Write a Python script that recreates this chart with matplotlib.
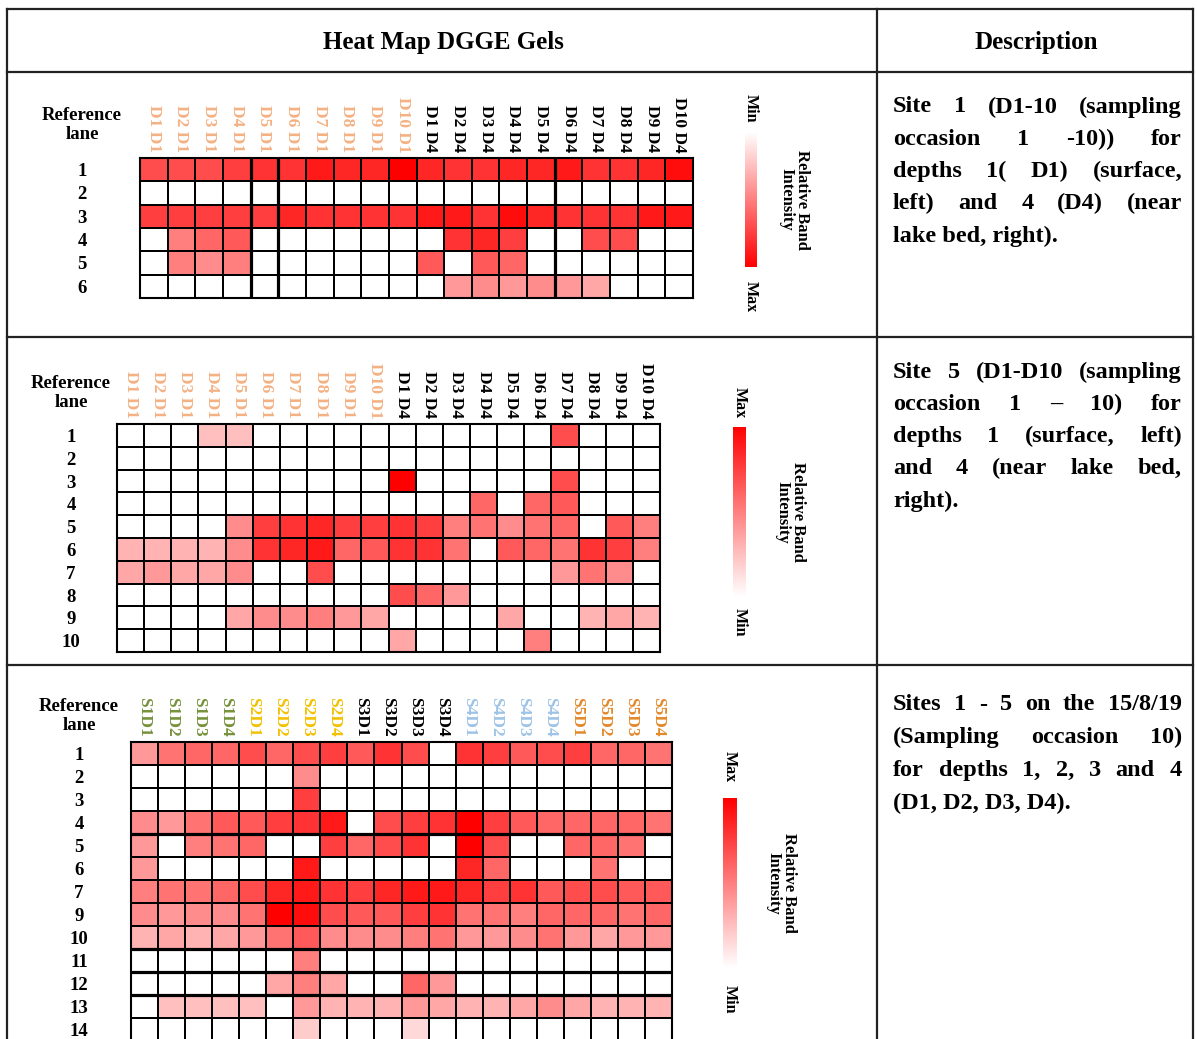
"""
Heat map DGGE gels - table of three band-intensity heat maps
"""
import numpy as np
import matplotlib
matplotlib.use('Agg')
import matplotlib.pyplot as plt
from matplotlib.colors import LinearSegmentedColormap
from matplotlib.lines import Line2D

W, H = 1197, 1039
SERIF = 'Liberation Serif'

# ---- data: site 1, depth 1 and depth 4 over 10 occasions ----
site1_cols = [f'D{i} D1' for i in range(1, 11)] + [f'D{i} D4' for i in range(1, 11)]
site1_rows = ['1', '2', '3', '4', '5', '6']
site1_vals = [
    [0.7, 0.7, 0.7, 0.75, 0.8, 0.8, 0.9, 0.85, 0.85, 1.0, 0.85, 0.8, 0.8, 0.85, 0.85, 0.9, 0.8, 0.8, 0.85, 0.95],
    [0] * 20,
    [0.75, 0.75, 0.75, 0.75, 0.75, 0.85, 0.8, 0.8, 0.8, 0.8, 0.9, 0.9, 0.8, 0.95, 0.85, 0.8, 0.8, 0.8, 0.9, 0.9],
    [0, 0.5, 0.6, 0.65, 0, 0, 0, 0, 0, 0, 0, 0.8, 0.85, 0.75, 0, 0, 0.7, 0.7, 0, 0],
    [0, 0.5, 0.45, 0.5, 0, 0, 0, 0, 0, 0, 0.65, 0, 0.65, 0.6, 0, 0, 0, 0, 0, 0],
    [0, 0, 0, 0, 0, 0, 0, 0, 0, 0, 0, 0.4, 0.45, 0.4, 0.45, 0.4, 0.35, 0, 0, 0],
]

# ---- data: site 5 ----
site5_cols = site1_cols
site5_rows = [str(i) for i in range(1, 11)]
site5_vals = [
    [0, 0, 0, 0.25, 0.25, 0, 0, 0, 0, 0, 0, 0, 0, 0, 0, 0, 0.7, 0, 0, 0],
    [0] * 20,
    [0, 0, 0, 0, 0, 0, 0, 0, 0, 0, 1.0, 0, 0, 0, 0, 0, 0.7, 0, 0, 0],
    [0, 0, 0, 0, 0, 0, 0, 0, 0, 0, 0, 0, 0, 0.6, 0, 0.6, 0.65, 0, 0, 0],
    [0, 0, 0, 0, 0.45, 0.75, 0.8, 0.85, 0.75, 0.75, 0.8, 0.75, 0.5, 0.55, 0.45, 0.55, 0.6, 0, 0.65, 0.5],
    [0.3, 0.3, 0.3, 0.3, 0.45, 0.8, 0.85, 0.9, 0.6, 0.65, 0.8, 0.8, 0.55, 0, 0.65, 0.6, 0.55, 0.8, 0.75, 0.5],
    [0.35, 0.4, 0.35, 0.35, 0.45, 0, 0, 0.7, 0, 0, 0, 0, 0, 0, 0, 0, 0.4, 0.55, 0.45, 0],
    [0, 0, 0, 0, 0, 0, 0, 0, 0, 0, 0.7, 0.6, 0.4, 0, 0, 0, 0, 0, 0, 0],
    [0, 0, 0, 0, 0.35, 0.45, 0.45, 0.5, 0.4, 0.35, 0, 0, 0, 0, 0.35, 0, 0, 0.3, 0.35, 0.3],
    [0, 0, 0, 0, 0, 0, 0, 0, 0, 0, 0.35, 0, 0, 0, 0, 0.5, 0, 0, 0, 0],
]

# ---- data: sites 1-5, 15/8/19 ----
sites_cols = [f'S{s}D{d}' for s in range(1, 6) for d in range(1, 5)]
sites_rows = ['1', '2', '3', '4', '5', '6', '7', '9', '10', '11', '12', '13', '14']
sites_vals = [
    [0.4, 0.55, 0.6, 0.6, 0.7, 0.6, 0.7, 0.75, 0.65, 0.8, 0.7, 0, 0.8, 0.75, 0.65, 0.7, 0.75, 0.6, 0.6, 0.55],
    [0, 0, 0, 0, 0, 0, 0.45, 0, 0, 0, 0, 0, 0, 0, 0, 0, 0, 0, 0, 0],
    [0, 0, 0, 0, 0, 0, 0.75, 0, 0, 0, 0, 0, 0, 0, 0, 0, 0, 0, 0, 0],
    [0.45, 0.4, 0.55, 0.65, 0.65, 0.75, 0.8, 0.9, 0, 0.7, 0.75, 0.8, 1.0, 0.75, 0.65, 0.6, 0.6, 0.6, 0.6, 0.55],
    [0.4, 0, 0.5, 0.55, 0.6, 0, 0, 0.75, 0.6, 0.7, 0.8, 0, 1.0, 0.7, 0, 0, 0.6, 0.6, 0.55, 0],
    [0.4, 0, 0, 0, 0, 0, 0.9, 0, 0, 0, 0, 0, 0.85, 0.6, 0, 0, 0, 0.55, 0, 0],
    [0.5, 0.55, 0.55, 0.6, 0.7, 0.85, 0.9, 0.8, 0.75, 0.85, 0.9, 0.9, 0.85, 0.75, 0.8, 0.65, 0.7, 0.7, 0.65, 0.65],
    [0.45, 0.4, 0.45, 0.45, 0.55, 1.0, 0.95, 0.7, 0.65, 0.65, 0.75, 0.8, 0.55, 0.55, 0.5, 0.6, 0.6, 0.6, 0.55, 0.6],
    [0.3, 0.35, 0.3, 0.35, 0.4, 0.55, 0.65, 0.45, 0.45, 0.45, 0.5, 0.55, 0.4, 0.4, 0.45, 0.55, 0.4, 0.35, 0.4, 0.4],
    [0, 0, 0, 0, 0, 0, 0.5, 0, 0, 0, 0, 0, 0, 0, 0, 0, 0, 0, 0, 0],
    [0, 0, 0, 0, 0, 0.35, 0.5, 0.35, 0, 0, 0.6, 0.4, 0, 0, 0, 0, 0, 0, 0, 0],
    [0, 0.25, 0.25, 0.25, 0.25, 0, 0.4, 0.3, 0.3, 0.3, 0.4, 0.35, 0.3, 0.3, 0.35, 0.45, 0.35, 0.3, 0.3, 0.3],
    [0, 0, 0, 0, 0, 0, 0.2, 0, 0, 0, 0.15, 0, 0, 0, 0, 0, 0, 0, 0, 0],
]

desc1 = ['Site 1 (D1-10 (sampling', 'occasion 1 -10)) for', 'depths 1( D1) (surface,',
         'left) and 4 (D4) (near', 'lake bed, right).']
desc2 = ['Site 5 (D1-D10 (sampling', 'occasion 1 \u2013 10) for', 'depths 1 (surface, left)',
         'and 4 (near lake bed,', 'right).']
desc3 = ['Sites 1 - 5 on the 15/8/19', '(Sampling occasion 10)', 'for depths 1, 2, 3 and 4',
         '(D1, D2, D3, D4).']

PEACH = '#f4b183'
d_colors = [PEACH] * 10 + ['black'] * 10
site_palette = ['#76923c', '#f2c100', 'black', '#9dc3e6', '#e2892a']
s_colors = [site_palette[i // 4] for i in range(20)]

cmap = LinearSegmentedColormap.from_list('wr', ['#ffffff', '#ff0000'])

fig = plt.figure(figsize=(W / 100, H / 100), dpi=100)


def fx(x):
    return x / W


def fy(y):
    return 1 - y / H


def hline(y, x0, x1, lw=1.6):
    fig.add_artist(Line2D([fx(x0), fx(x1)], [fy(y), fy(y)], color='#222222', lw=lw))


def vline(x, y0, y1, lw=1.6):
    fig.add_artist(Line2D([fx(x), fx(x)], [fy(y0), fy(y1)], color='#222222', lw=lw))


# table frame
L, C, R, T = 7, 877, 1193, 9
hline(T, L, R)
hline(72, L, R)
hline(337, L, R)
hline(665, L, R)
vline(L, T, H)
vline(C, T, H)
vline(R, T, H)

fig.text(fx(443), fy(42), 'Heat Map DGGE Gels', ha='center', va='center',
         fontsize=18, fontweight='bold', family=SERIF)
fig.text(fx(1036), fy(42), 'Description', ha='center', va='center',
         fontsize=18, fontweight='bold', family=SERIF)


def heatmap(vals, left, top, width, cell_h, xlabels, xcolors, ylabels, label_x, ref_y,
            thick_v=(), thick_h=()):
    data = np.array(vals, dtype=float)
    nr, nc = data.shape
    ax = fig.add_axes([fx(left), fy(top + nr * cell_h), width / W, nr * cell_h / H])
    ax.pcolormesh(data, cmap=cmap, vmin=0, vmax=1, edgecolors='black', linewidth=1.3)
    # a few heavier gel lines as in the original
    for v in thick_v:
        ax.axvline(v, color='black', lw=2.3)
    for h in thick_h:
        ax.axhline(h, color='black', lw=2.3)
    ax.set_xlim(0, nc)
    ax.set_ylim(nr, 0)
    ax.xaxis.tick_top()
    ax.set_xticks(np.arange(nc) + 0.5)
    ax.set_xticklabels(xlabels, rotation=-90, ha='center', va='bottom',
                       fontsize=12.5, fontweight='bold', family=SERIF)
    for t, c in zip(ax.get_xticklabels(), xcolors):
        t.set_color(c)
    ax.set_yticks(np.arange(nr) + 0.5)
    ax.set_yticklabels(ylabels, ha='center', fontsize=13.5, fontweight='bold', family=SERIF)
    ax.tick_params(length=0)
    ax.tick_params(axis='y', pad=(left - label_x) * 0.72)
    ax.tick_params(axis='x', pad=4)
    for s in ax.spines.values():
        s.set_linewidth(1.5)
    fig.text(fx(label_x), fy(ref_y), 'Reference\nlane', ha='center', va='center',
             fontsize=13.5, fontweight='bold', family=SERIF, linespacing=1.1)
    return ax


def colorbar(x, y0, y1, width, red_top, max_y, min_y, text_x):
    ax = fig.add_axes([fx(x), fy(y1), width / W, (y1 - y0) / H])
    grad = np.linspace(0, 1, 256).reshape(-1, 1)
    if red_top:
        grad = grad[::-1]
    ax.imshow(grad, cmap=cmap, aspect='auto', vmin=0, vmax=1)
    ax.axis('off')
    cx = x + width / 2
    fig.text(fx(cx), fy(max_y), 'Max', rotation=-90, ha='center', va='center',
             fontsize=11.5, fontweight='bold', family=SERIF)
    fig.text(fx(cx), fy(min_y), 'Min', rotation=-90, ha='center', va='center',
             fontsize=11.5, fontweight='bold', family=SERIF)
    fig.text(fx(text_x), fy((y0 + y1) / 2), 'Relative Band\nIntensity', rotation=-90,
             ha='center', va='center', fontsize=12, fontweight='bold', family=SERIF,
             multialignment='center', linespacing=1.0)


heatmap(site1_vals, 140, 158, 553, 23.3, site1_cols, d_colors, site1_rows, 82, 125,
        thick_v=(4, 5, 15))
colorbar(745, 132, 267, 12, False, 297, 108, 794)

heatmap(site5_vals, 117, 424, 543, 22.8, site5_cols, d_colors, site5_rows, 71, 393)
colorbar(733, 427, 597, 13, True, 403, 622, 790)

heatmap(sites_vals, 131, 742, 541, 23.0, sites_cols, s_colors, sites_rows, 79, 716,
        thick_h=(4, 9, 10, 11))
colorbar(723, 798, 968, 14, True, 767, 999, 781)


def justified(lines, x0, x1, y0, dy, size=17.5):
    renderer = fig.canvas.get_renderer()
    for i, line in enumerate(lines):
        y = fy(y0 + i * dy)
        words = line.split()
        if i == len(lines) - 1 or len(words) == 1:
            fig.text(fx(x0), y, line, ha='left', va='center', fontsize=size,
                     fontweight='bold', family=SERIF)
            continue
        texts = [fig.text(0, y, w, ha='left', va='center', fontsize=size,
                          fontweight='bold', family=SERIF) for w in words]
        widths = [t.get_window_extent(renderer).width for t in texts]
        gap = (x1 - x0 - sum(widths)) / (len(words) - 1)
        xpos = x0
        for t, w in zip(texts, widths):
            t.set_x(fx(xpos))
            xpos += w + gap


justified(desc1, 893, 1182, 107, 32.3)
justified(desc2, 893, 1182, 372, 32.3)
justified(desc3, 893, 1182, 705, 32.7)

fig.savefig('out.png', dpi=100)
